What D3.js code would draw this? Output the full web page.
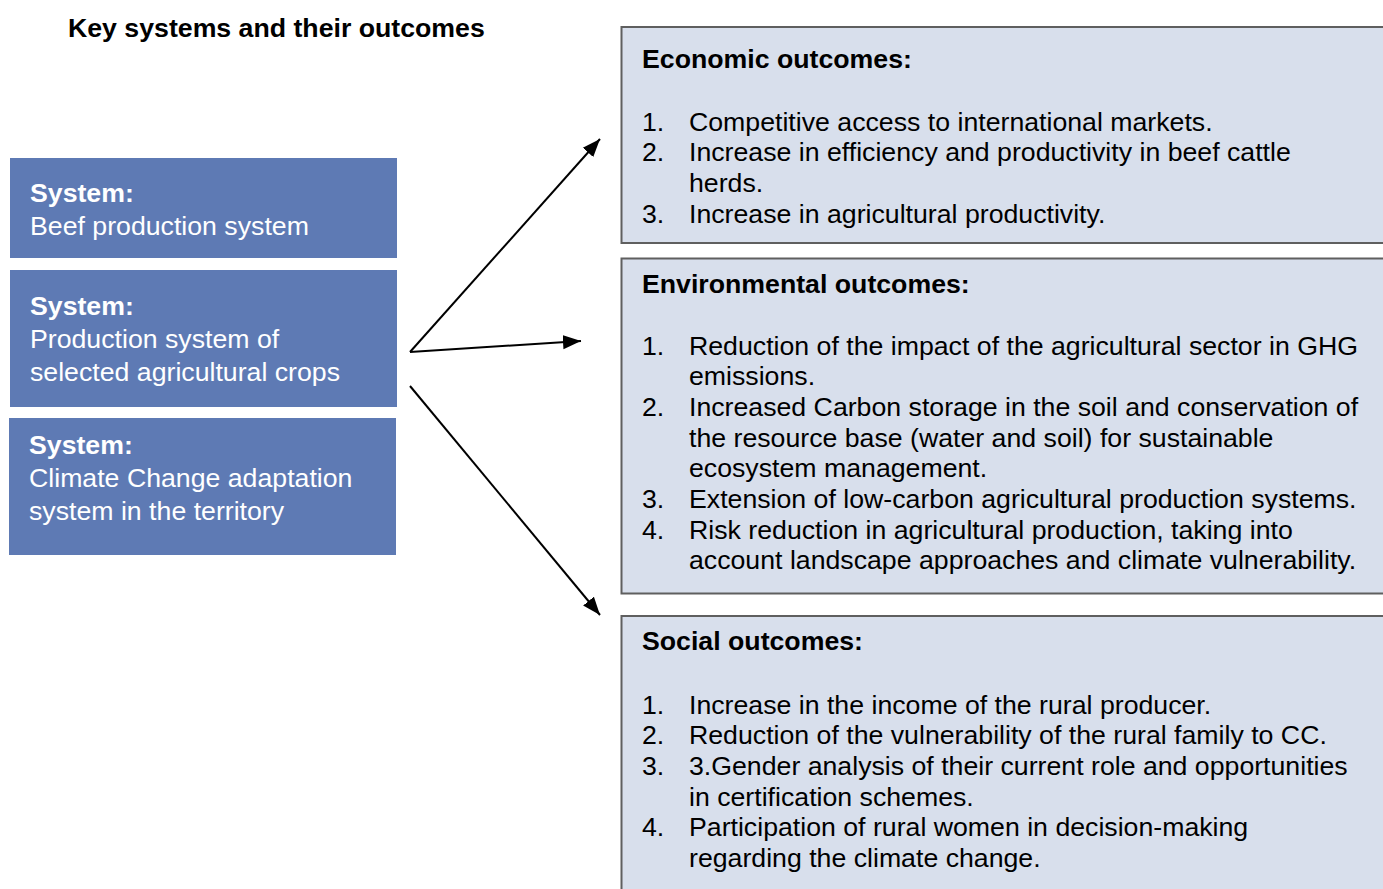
<!DOCTYPE html>
<html>
<head>
<meta charset="utf-8">
<script src="https://cdn.jsdelivr.net/npm/d3@7"></script>
<style>
  body { margin: 0; background: #fff; }
  svg text { font-family: "Liberation Sans", Arial, sans-serif; font-size: 26.7px; }
</style>
</head>
<body>
<div id="chart"></div>
<script>
// title
let title = "Key systems and their outcomes";

// systems on the left (already wrapped as in the picture)
let systemLabel = "System:";
let systems = [
  ["Beef production system"],
  ["Production system of", "selected agricultural crops"],
  ["Climate Change adaptation", "system in the territory"]
];

// outcome groups on the right
let outcomeHeadings = ["Economic outcomes:", "Environmental outcomes:", "Social outcomes:"];
let economicItems = [
  ["Competitive access to international markets."],
  ["Increase in efficiency and productivity in beef cattle", "herds."],
  ["Increase in agricultural productivity."]
];
let environmentalItems = [
  ["Reduction of the impact of the agricultural sector in GHG", "emissions."],
  ["Increased Carbon storage in the soil and conservation of", "the resource base (water and soil) for sustainable", "ecosystem management."],
  ["Extension of low-carbon agricultural production systems."],
  ["Risk reduction in agricultural production, taking into", "account landscape approaches and climate vulnerability."]
];
let socialItems = [
  ["Increase in the income of the rural producer."],
  ["Reduction of the vulnerability of the rural family to CC."],
  ["3.Gender analysis of their current role and opportunities", "in certification schemes."],
  ["Participation of rural women in decision-making", "regarding the climate change."]
];
let outcomeItems = [economicItems, environmentalItems, socialItems];

let width = 1383, height = 889;

// layout (positions only, no data)
let layout = {
  leftX: [10, 10, 9], leftW: 387,
  leftBoxes: [[158, 258], [270, 407], [418, 555]],
  leftFirst: [43.5, 44.5, 35.5],
  leftLine: 33,
  rightX: 621.5, rightW: 800,
  rightBoxes: [[27, 243], [258.5, 593.5], [616, 910]],
  headingY: [67.5, 292.7, 650.3],
  firstItemGap: [63, 61.8, 63.2],
  itemLine: 30.7,
  arrows: [
    { from: [410, 352], to: [600, 139] },
    { from: [410, 352], to: [581, 341] },
    { from: [410, 386], to: [600, 615] }
  ]
};

let svg = d3.select("#chart").append("svg")
  .attr("width", width)
  .attr("height", height)
  .attr("viewBox", `0 0 ${width} ${height}`);

svg.append("defs").append("marker")
  .attr("id", "head")
  .attr("markerUnits", "userSpaceOnUse")
  .attr("markerWidth", 19)
  .attr("markerHeight", 15)
  .attr("refX", 18)
  .attr("refY", 7.5)
  .attr("orient", "auto")
  .append("path")
  .attr("d", "M0,0.5 L18,7.5 L0,14.5 Z")
  .attr("fill", "#000");

svg.append("text")
  .attr("x", 68)
  .attr("y", 36.5)
  .attr("font-weight", "bold")
  .attr("fill", "#000")
  .text(title);

// left system boxes
let sys = svg.selectAll(".system")
  .data(systems)
  .enter()
  .append("g")
  .attr("class", "system");

sys.append("rect")
  .attr("x", (d, i) => layout.leftX[i])
  .attr("y", (d, i) => layout.leftBoxes[i][0])
  .attr("width", layout.leftW)
  .attr("height", (d, i) => layout.leftBoxes[i][1] - layout.leftBoxes[i][0])
  .attr("fill", "#5e7ab4");

sys.each(function(d, i) {
  let g = d3.select(this);
  let x = layout.leftX[i] + 20;
  let y0 = layout.leftBoxes[i][0] + layout.leftFirst[i];
  g.append("text")
    .attr("x", x).attr("y", y0)
    .attr("font-weight", "bold")
    .attr("fill", "#fff")
    .text(systemLabel);
  g.selectAll(".line")
    .data(d)
    .enter()
    .append("text")
    .attr("class", "line")
    .attr("x", x)
    .attr("y", (t, j) => y0 + layout.leftLine * (j + 1))
    .attr("fill", "#fff")
    .text(t => t);
});

// arrows
svg.selectAll(".arrow")
  .data(layout.arrows)
  .enter()
  .append("line")
  .attr("class", "arrow")
  .attr("x1", d => d.from[0]).attr("y1", d => d.from[1])
  .attr("x2", d => d.to[0]).attr("y2", d => d.to[1])
  .attr("stroke", "#000")
  .attr("stroke-width", 2)
  .attr("marker-end", "url(#head)");

// right outcome boxes
let out = svg.selectAll(".outcome")
  .data(outcomeHeadings)
  .enter()
  .append("g")
  .attr("class", "outcome");

out.append("rect")
  .attr("x", layout.rightX)
  .attr("y", (d, i) => layout.rightBoxes[i][0])
  .attr("width", layout.rightW)
  .attr("height", (d, i) => layout.rightBoxes[i][1] - layout.rightBoxes[i][0])
  .attr("fill", "#d8dfec")
  .attr("stroke", "#5f5f5f")
  .attr("stroke-width", 2);

out.each(function(heading, i) {
  let g = d3.select(this);
  let hy = layout.headingY[i];
  g.append("text")
    .attr("x", 642).attr("y", hy)
    .attr("font-weight", "bold")
    .attr("fill", "#000")
    .text(heading);

  // flatten items to lines, numbering the first line of each
  let lines = [];
  outcomeItems[i].forEach((item, k) => {
    item.forEach((t, j) => lines.push({ num: j == 0 ? (k + 1) + "." : "", text: t }));
  });
  let top = hy + layout.firstItemGap[i];
  let yLine = d3.scaleLinear()
    .domain([0, 1])
    .range([top, top + layout.itemLine]);

  let rows = g.selectAll(".row")
    .data(lines)
    .enter()
    .append("g")
    .attr("class", "row");
  rows.append("text")
    .attr("x", 642)
    .attr("y", (d, j) => yLine(j))
    .attr("fill", "#000")
    .text(d => d.num);
  rows.append("text")
    .attr("x", 689)
    .attr("y", (d, j) => yLine(j))
    .attr("fill", "#000")
    .text(d => d.text);
});
</script>
</body>
</html>
